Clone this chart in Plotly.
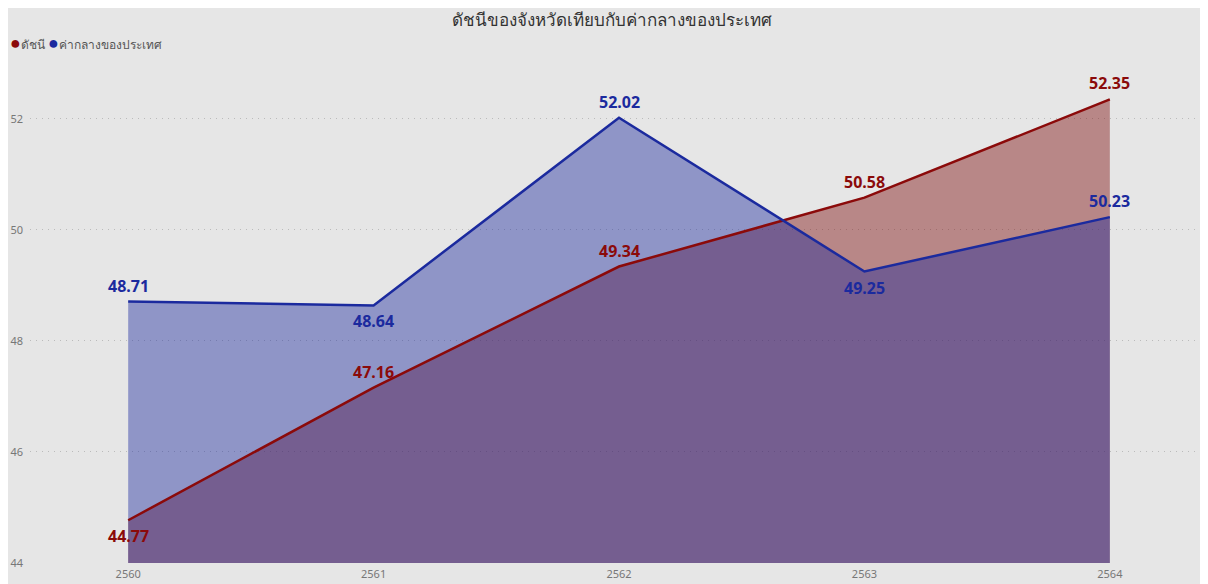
import plotly.graph_objects as go

years = [2560, 2561, 2562, 2563, 2564]
index_vals = [44.77, 47.16, 49.34, 50.58, 52.35]
median_vals = [48.71, 48.64, 52.02, 49.25, 50.23]
index_above = [False, True, True, True, True]
median_above = [True, False, True, False, True]
series_names = ["ดัชนี", "ค่ากลางของประเทศ"]
title_text = "ดัชนีของจังหวัดเทียบกับค่ากลางของประเทศ"

RED = "#8B0A0A"
BLUE = "#1B2A9E"
FONT = "Segoe UI, Noto Sans, Open Sans, sans-serif"

fig = go.Figure()
# fills
fig.add_trace(go.Scatter(x=years, y=index_vals, mode="none", fill="tozeroy",
                         fillcolor="rgba(118,0,0,0.41)", showlegend=False, hoverinfo="skip"))
fig.add_trace(go.Scatter(x=years, y=median_vals, mode="none", fill="tozeroy",
                         fillcolor="rgba(25,37,158,0.42)", showlegend=False, hoverinfo="skip"))
# lines
fig.add_trace(go.Scatter(x=years, y=index_vals, mode="lines", name=series_names[0],
                         line=dict(color=RED, width=2.5), showlegend=False))
fig.add_trace(go.Scatter(x=years, y=median_vals, mode="lines", name=series_names[1],
                         line=dict(color=BLUE, width=2.5), showlegend=False))

# data labels
for vals, above, col in [(index_vals, index_above, RED), (median_vals, median_above, BLUE)]:
    for x, v, a in zip(years, vals, above):
        fig.add_annotation(x=x, y=v, text=f"{v:.2f}", showarrow=False,
                           yshift=16 if a else -16,
                           font=dict(color=col, size=16, family=FONT, weight="bold"))

# legend as text
legend_html = (f"<span style='color:{RED};font-size:18px'>●</span>{series_names[0]} "
               f"<span style='color:{BLUE};font-size:18px'>●</span>{series_names[1]}")
fig.add_annotation(xref="paper", yref="paper", x=0, y=1.0, xanchor="left", yanchor="middle",
                   xshift=-22, yshift=8, showarrow=False, text=legend_html,
                   font=dict(size=12, color="#555555", family=FONT))

fig.update_layout(
    width=1208, height=584,
    paper_bgcolor="#E6E6E6", plot_bgcolor="#E6E6E6",
    margin=dict(l=22, r=8, t=42, b=29, autoexpand=False),
    font=dict(family=FONT, color="#666666", size=11),
    title=dict(text=title_text, x=0.5, xanchor="center", y=0.98, yanchor="middle",
               font=dict(size=17, color="#333333", family=FONT)),
    showlegend=False,
    xaxis=dict(range=[2559.6, 2564.4], tickvals=years, ticktext=[str(y) for y in years],
               showgrid=False, zeroline=False, showline=False, ticklabelstandoff=3,
               automargin=False, tickfont=dict(size=11, color="#777777")),
    yaxis=dict(range=[44, 53.24], tickvals=[44, 46, 48, 50, 52], showgrid=True,
               gridcolor="#BBBBBB", griddash="1px,5px", gridwidth=1, zeroline=False,
               showline=False, ticklabelstandoff=6, automargin=False,
               tickfont=dict(size=11, color="#777777")),
)
fig.write_html("out.html")
